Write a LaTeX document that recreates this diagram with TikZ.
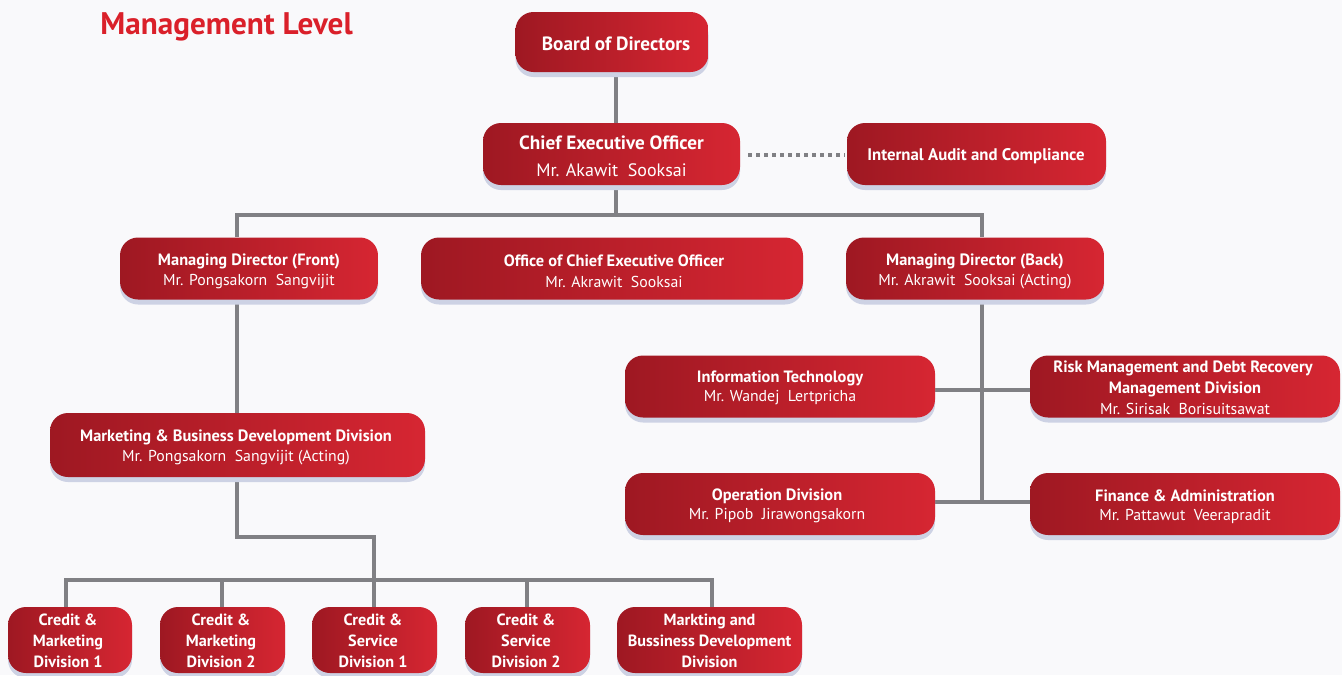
\documentclass[tikz,border=0pt]{standalone}
\usepackage{fontspec}
\setmainfont{PT Sans}
\usetikzlibrary{shadows}
\definecolor{rdark}{RGB}{158,24,34}
\definecolor{rlight}{RGB}{214,38,50}
\definecolor{shadowc}{RGB}{205,210,228}
\definecolor{linec}{RGB}{128,128,132}
\definecolor{titlec}{RGB}{218,32,42}
\definecolor{bgc}{RGB}{249,249,251}
\tikzset{
  box/.style={rounded corners=9pt, left color=rdark, right color=rlight, text=white,
    align=center, inner sep=0pt, minimum height=31pt,
    drop shadow={fill=shadowc, opacity=1, shadow xshift=0pt, shadow yshift=-2.5pt}},
  lbl/.style={text=white, align=center, inner sep=0pt},
  tA/.style={lbl, font=\fontsize{9.6}{11}\selectfont\bfseries},
  nA/.style={lbl, font=\fontsize{9.0}{11}\selectfont},
  tB/.style={lbl, font=\fontsize{8.2}{10.3}\selectfont\bfseries},
  nB/.style={lbl, font=\fontsize{7.9}{10.3}\selectfont},
  tC/.style={lbl, font=\fontsize{8.1}{10.6}\selectfont\bfseries},
  conn/.style={draw=linec, line width=2pt},
  dotc/.style={draw=linec, line width=2pt, dash pattern=on 2pt off 2pt}
}
\begin{document}
\begin{tikzpicture}[x=0.5pt,y=-0.5pt]
\fill[bgc] (0,0) rectangle (1342,675);
\useasboundingbox (0,0) rectangle (1342,675);
\node[text=titlec, font=\fontsize{15.6}{17}\selectfont\bfseries, anchor=west, inner sep=0pt] (title) at (100,27) {Management Level};

% connector points
\coordinate (barL) at (237,215);
\coordinate (barR) at (982,215);
\coordinate (barM) at (616,215);
\coordinate (j1) at (237,537);
\coordinate (j2) at (374,537);
\coordinate (j3) at (374,580);
\coordinate (b1) at (66,580);
\coordinate (b5) at (712,580);
\coordinate (r1) at (982,390);
\coordinate (r2) at (982,502);
\coordinate (bodB) at (616,72);
\coordinate (ceoT) at (616,123);
\coordinate (ceoB) at (616,185);
\coordinate (mdfT) at (237,237);
\coordinate (mdfB) at (237,300);
\coordinate (mdbT) at (982,237);
\coordinate (mdbB) at (982,300);
\coordinate (mbdT) at (237,413);
\coordinate (mbdB) at (237,477);
\coordinate (itR) at (935,390);
\coordinate (riskL) at (1030,390);
\coordinate (opR) at (935,502);
\coordinate (finL) at (1030,502);
\coordinate (ceoR) at (748,155);
\coordinate (iaL) at (845,155);
\coordinate (d1) at (66,607);
\coordinate (d2) at (222,607);
\coordinate (d3) at (374,607);
\coordinate (d4) at (527,607);
\coordinate (d5) at (712,607);
\coordinate (b2) at (222,580);
\coordinate (b4) at (527,580);

\draw[conn] (bodB) -- (ceoT);
\draw[conn] (ceoB) -- (barM);
\draw[conn] (mdfT) -- (barL) -- (barR) -- (mdbT);
\draw[conn] (mdfB) -- (mbdT);
\draw[conn] (mbdB) -- (j1) -- (j2) -- (j3);
\draw[conn] (d1) -- (b1) -- (b5) -- (d5);
\draw[conn] (b2) -- (d2);
\draw[conn] (j3) -- (d3);
\draw[conn] (b4) -- (d4);
\draw[conn] (mdbB) -- (r2);
\draw[conn] (itR) -- (riskL);
\draw[conn] (opR) -- (finL);
\draw[dotc] (ceoR) -- (iaL);

\node[box, minimum width=96.5pt, minimum height=30pt] (bod) at (612,42) {};
\node[box, minimum width=128.5pt] (ceo) at (611.5,154) {};
\node[box, minimum width=129.5pt] (ia) at (976.5,154) {};
\node[box, minimum width=129pt] (mdf) at (249,268.5) {};
\node[box, minimum width=191pt] (oceo) at (612,268.5) {};
\node[box, minimum width=129pt] (mdb) at (975,268.5) {};
\node[box, minimum width=187.5pt, minimum height=32pt] (mbd) at (237.5,445) {};
\node[box, minimum width=155pt] (it) at (780,386.5) {};
\node[box, minimum width=155pt] (risk) at (1185,386.5) {};
\node[box, minimum width=155pt] (op) at (780,504) {};
\node[box, minimum width=155pt] (fin) at (1185,504) {};
\node[box, minimum width=62pt, minimum height=33pt] (c1) at (70,640) {};
\node[box, minimum width=62.5pt, minimum height=33pt] (c2) at (222.5,640) {};
\node[box, minimum width=62.5pt, minimum height=33pt] (c3) at (374.5,640) {};
\node[box, minimum width=62.5pt, minimum height=33pt] (c4) at (527.5,640) {};
\node[box, minimum width=92.5pt, minimum height=33pt] (c5) at (709.5,640) {};

% texts
\node[tA] (bodt) at (616,44) {Board of Directors};
\node[tA] (ceot) at (611.5,143) {Chief Executive Officer};
\node[nA] (ceon) at (611.5,170) {Mr. Akawit\ \ Sooksai};
\node[lbl, font=\fontsize{8.4}{10}\selectfont\bfseries] (iat) at (976,156) {Internal Audit and Compliance};
\node[tB] (mdft) at (249,261) {Managing Director (Front)};
\node[nB] (mdfn) at (249,282) {Mr. Pongsakorn\ \ Sangvijit};
\node[tB] (oceot) at (614,261) {Office of Chief Executive Officer};
\node[nB] (oceon) at (614,282) {Mr. Akrawit\ \ Sooksai};
\node[tB] (mdbt) at (975,261) {Managing Director (Back)};
\node[nB] (mdbn) at (975,282) {Mr. Akrawit\ \ Sooksai (Acting)};
\node[tB] (mbdt) at (236,437) {Marketing \& Business Development Division};
\node[nB] (mbdn) at (236,458) {Mr. Pongsakorn\ \ Sangvijit (Acting)};
\node[tB] (itt) at (780,378) {Information Technology};
\node[nB] (itn) at (780,398) {Mr. Wandej\ \ Lertpricha};
\node[tB] (riskt1) at (1183,368) {Risk Management and Debt Recovery};
\node[tB] (riskt2) at (1185,389) {Management Division};
\node[nB] (riskn) at (1185,409) {Mr. Sirisak\ \ Borisuitsawat};
\node[tB] (opt) at (777,496) {Operation Division};
\node[nB] (opn) at (777,516) {Mr. Pipob\ \ Jirawongsakorn};
\node[tB] (fint) at (1185,496) {Finance \& Administration};
\node[nB] (finn) at (1185,516) {Mr. Pattawut\ \ Veerapradit};
\node[tC] (c1t) at (68,641) {Credit \&\\Marketing\\Division 1};
\node[tC] (c2t) at (221,641) {Credit \&\\Marketing\\Division 2};
\node[tC] (c3t) at (373,641) {Credit \&\\Service\\Division 1};
\node[tC] (c4t) at (526,641) {Credit \&\\Service\\Division 2};
\node[tC] (c5t) at (709.5,641) {Markting and\\Bussiness Development\\Division};
\end{tikzpicture}
\end{document}
